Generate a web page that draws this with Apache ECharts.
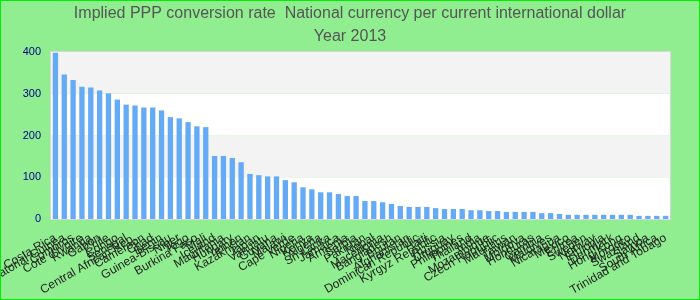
<!DOCTYPE html>
<html>
<head>
<meta charset="utf-8">
<script src="https://cdn.jsdelivr.net/npm/echarts@6/dist/echarts.min.js"></script>
<style>
html,body{margin:0;padding:0;background:#90ee90;}
#chart{width:700px;height:300px;box-sizing:border-box;border:1px solid #00ee00;}
</style>
</head>
<body>
<div id="chart"></div>
<script>
const categories = ["Costa Rica","Equatorial Guinea","Comoros","Cote d'Ivoire","Rwanda","Gabon","Chile","Congo","Senegal","Central African Rep.","Cameroon","Chad","Benin","Guinea-Bissau","Niger","Togo","Burkina Faso","Mali","Iceland","Mauritania","Hungary","Yemen","Kazakhstan","Japan","Vanuatu","Guyana","Malawi","Cape Verde","Nigeria","Kenya","Algeria","Sri Lanka","Jamaica","Armenia","Serbia","Pakistan","Nepal","Macedonia","Bangladesh","Bhutan","Afghanistan","Dominican Republic","Haiti","Kyrgyz Republic","Russia","Uruguay","Philippines","Thailand","India","Mozambique","Czech Republic","Mauritius","Taiwan","Moldova","Honduras","Gambia","Maldives","Nicaragua","Mexico","Eritrea","Sweden","Norway","Ethiopia","Denmark","Hong Kong","Morocco","Swaziland","Samoa","South Africa","Trinidad and Tobago"];
const values = [398,346,333,317,315,308,301,286,274,272,267,267,260,244,241,232,222,220,151,151,146,136,108,105,102,102,93,88,76,71,64,64,60,55,55,43,43,40,36,31,29,29,29,26,24,24,24,21,21,19,19,17,17,17,17,14,14,12,10,10,10,10,10,10,10,10,7.5,7.5,7.5,7.5];
const titleLines = ["Implied PPP conversion rate  National currency per current international dollar","Year 2013"];
const yTicks = {min:0,max:400,interval:100};

const chart = echarts.init(document.getElementById('chart'));
chart.setOption({
  backgroundColor:'#90ee90',
  animation:false,
  title:{
    text:titleLines.join('\n'),
    left:'center',
    top:1,
    padding:0,
    textStyle:{color:'#555',fontSize:16,fontWeight:'normal',fontFamily:'Liberation Sans, Arial, sans-serif',lineHeight:23}
  },
  grid:{left:50,right:29,top:51,bottom:80,show:true,borderColor:'#d8d8d8',borderWidth:2,backgroundColor:'transparent',containLabel:false,outerBoundsMode:'none'},
  xAxis:{
    type:'category',
    data:categories,
    axisLine:{show:false},
    axisTick:{show:false},
    axisLabel:{interval:0,rotate:30,color:'#222',fontSize:12,fontFamily:'Liberation Sans, Arial, sans-serif',margin:18}
  },
  yAxis:{
    type:'value',
    min:yTicks.min,max:yTicks.max,interval:yTicks.interval,
    axisLine:{show:false},
    axisTick:{show:false},
    splitLine:{show:false},
    splitArea:{show:true,areaStyle:{color:['#ffffff','#f3f3f3']}},
    axisLabel:{color:'#00008b',fontSize:11,fontFamily:'Liberation Sans, Arial, sans-serif',margin:10}
  },
  series:[{
    type:'bar',
    data:values,
    barCategoryGap:'40%',
    itemStyle:{color:'#64aaf4'}
  }]
});
</script>
</body>
</html>
